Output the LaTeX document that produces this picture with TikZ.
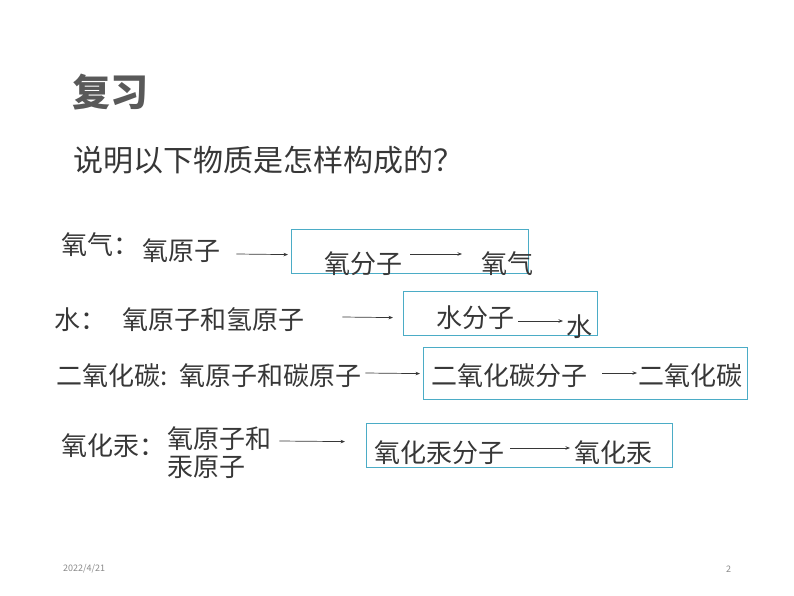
\documentclass[tikz,border=0pt]{standalone}
\usepackage{fontspec}
\setmainfont{Noto Sans CJK SC}
\usetikzlibrary{arrows.meta}
\definecolor{boxteal}{RGB}{75,172,198}
\definecolor{txtgray}{RGB}{55,55,55}
\definecolor{headgray}{RGB}{89,89,89}
\definecolor{footgray}{RGB}{137,137,137}

\begin{document}
\begin{tikzpicture}[x=1pt,y=-1pt,
        every node/.style={anchor=west,inner sep=0pt,text=txtgray},
        txt/.style={font=\fontsize{26}{30}\selectfont},
        arr/.style={-{Stealth[length=4.5pt,width=3.5pt]},line width=0.7pt,draw=txtgray},
        molbox/.style={draw=boxteal,line width=1.2pt,anchor=north west}]
        \useasboundingbox (0,0) rectangle (794,596);
        % heading
        \node[font=\fontsize{38}{42}\selectfont\bfseries,text=headgray] (head) at (72,92) {复习};
        \node[font=\fontsize{30}{34}\selectfont] (quest) at (73,160) {说明以下物质是怎样构成的？};
        % oxygen
        \node[txt] (lab1) at (61,245) {氧气：};
        \node[txt] (atom1) at (142,251) {氧原子};
        \node[molbox,minimum width=237,minimum height=44] (box1) at (291,229) {};
        \node[txt] (mol1) at (324,264) {氧分子};
        \node[txt] (sub1) at (481,264) {氧气};
        \draw[arr] ([shift={(16,3)}]atom1.east) -- ([shift={(-3,3)}]box1.west);
        \draw[arr] ([shift={(8,-10)}]mol1.east) -- ([shift={(-19,-10)}]sub1.west);
        % water
        \node[txt] (lab2) at (54,320) {水：};
        \node[txt] (atom2) at (122,320) {氧原子和氢原子};
        \node[molbox,minimum width=194,minimum height=44] (box2) at (403,291) {};
        \node[txt] (mol2) at (436,318) {水分子};
        \node[txt] (sub2) at (566,327) {水};
        \draw[arr] ([shift={(38,-3)}]atom2.east) -- ([shift={(-10,4)}]box2.west);
        \draw[arr] ([shift={(4,3)}]mol2.east) -- ([shift={(-3,-6)}]sub2.west);
        % carbon dioxide
        \node[txt] (lab3) at (56,376) {二氧化碳:};
        \node[txt] (atom3) at (179,376) {氧原子和碳原子};
        \node[molbox,minimum width=324,minimum height=52] (box3) at (423,347) {};
        \node[txt] (mol3) at (431,376) {二氧化碳分子};
        \node[txt] (sub3) at (638,376) {二氧化碳};
        \draw[arr] ([shift={(4,-3)}]atom3.east) -- ([shift={(-3,0)}]box3.west);
        \draw[arr] ([shift={(15,-3)}]mol3.east) -- ([shift={(-1,-3)}]sub3.west);
        % mercury oxide
        \node[txt] (lab4) at (61,446) {氧化汞：};
        \node[txt] (atom4a) at (167,439) {氧原子和};
        \node[txt] (atom4b) at (167,467) {汞原子};
        \node[molbox,minimum width=306,minimum height=44] (box4) at (366,423) {};
        \node[txt] (mol4) at (374,453) {氧化汞分子};
        \node[txt] (sub4) at (574,453) {氧化汞};
        \draw[arr] ([shift={(8,2)}]atom4a.east) -- ([shift={(-21,-4)}]box4.west);
        \draw[arr] ([shift={(6,-5)}]mol4.east) -- ([shift={(-4,-5)}]sub4.west);
        % footer
        \node[font=\fontsize{9}{10}\selectfont,text=footgray] (date) at (63,569) {2022/4/21};
        \node[font=\fontsize{9}{10}\selectfont,text=footgray] (page) at (726,569) {2};
    \end{tikzpicture}
\end{document}
